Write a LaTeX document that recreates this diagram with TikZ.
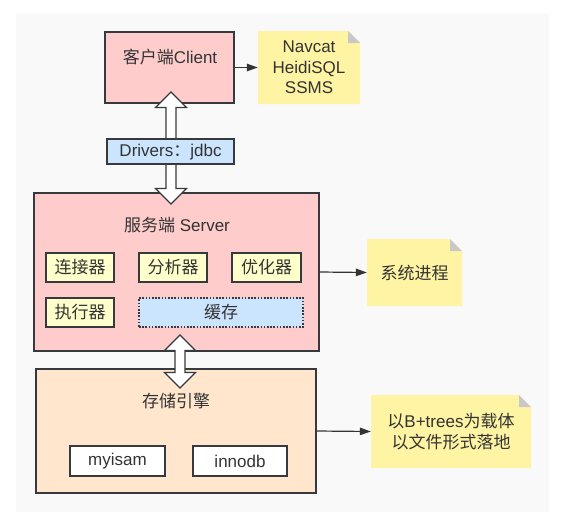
\documentclass[tikz,border=0pt]{standalone}
\usepackage{fontspec}
\setmainfont{Liberation Sans}
\newfontfamily\cj{Noto Sans CJK SC}
\usetikzlibrary{arrows.meta,calc}
\definecolor{panelc}{HTML}{F9F9F9}
\definecolor{pinkc}{HTML}{FFCCCC}
\definecolor{notec}{HTML}{FFF4A3}
\definecolor{innerc}{HTML}{FFFFCC}
\definecolor{bluec}{HTML}{CCE5FF}
\definecolor{peachc}{HTML}{FFE6CC}
\definecolor{borderc}{HTML}{36393D}
\definecolor{foldc}{HTML}{C8C8C8}
\definecolor{textc}{HTML}{333333}
\newcommand\dblarr[2]{\draw[hollow] let \p1=(#1), \p2=(#2) in (\p1) -- ++(15.5pt,-15.5pt) -- ++(-10.5pt,0pt) -- (\x1+5pt,\y2+15.5pt) -- ++(10.5pt,0pt) -- (\p2) -- ++(-15.5pt,15.5pt) -- ++(10.5pt,0pt) -- (\x1-5pt,\y1-15.5pt) -- ++(-10.5pt,0pt) -- cycle;}
\begin{document}
\begin{tikzpicture}[x=1pt,y=-1pt,
  box/.style={draw=borderc, line width=1.1pt, inner sep=0pt},
  txt/.style={text=textc, inner sep=0pt, font=\fontsize{17}{20.5}\selectfont, align=center},
  conn/.style={draw=textc, line width=1.2pt, -{Triangle[length=11pt,width=7.5pt]}},
  hollow/.style={draw=borderc, fill=white, line width=1.1pt, line join=miter},
  note/.style={inner sep=0pt, path picture={
    \fill[notec] (path picture bounding box.north west) -- ([xshift=-12pt]path picture bounding box.north east) -- ([yshift=-12pt]path picture bounding box.north east) -- (path picture bounding box.south east) -- (path picture bounding box.south west) -- cycle;
    \fill[foldc] ([xshift=-12pt]path picture bounding box.north east) -- ([xshift=-12pt,yshift=-12pt]path picture bounding box.north east) -- ([yshift=-12pt]path picture bounding box.north east) -- cycle;}}
]
\useasboundingbox (0,0) rectangle (565,528);
\fill[panelc] (16,13) rectangle (549,512);

% client
\node[box, fill=pinkc, minimum width=129pt, minimum height=71pt] (client) at (169.5,67.5) {};
\node[note, minimum width=102pt, minimum height=73pt] (note1) at (309,67.5) {};

% server
\node[box, fill=pinkc, minimum width=285pt, minimum height=158pt] (server) at (176.5,272) {};
\node[box, fill=innerc, minimum width=68pt, minimum height=29pt] (conn1) at (80,267.5) {};
\node[box, fill=innerc, minimum width=68pt, minimum height=29pt] (anal) at (173,267.5) {};
\node[box, fill=innerc, minimum width=69pt, minimum height=29pt] (opt) at (266.5,267.5) {};
\node[box, fill=innerc, minimum width=68pt, minimum height=29pt] (exec) at (80,312.5) {};
\node[draw=borderc, line width=1.3pt, dash pattern=on 1.6pt off 1.6pt, fill=bluec, inner sep=0pt, minimum width=164pt, minimum height=29pt] (cache) at (221,312.5) {};
\node[note, minimum width=95pt, minimum height=67pt] (note2) at (414.5,272.5) {};

% storage
\node[box, fill=peachc, minimum width=280pt, minimum height=124pt] (storage) at (176,431) {};
\node[box, fill=white, minimum width=95pt, minimum height=30pt] (myisam) at (117.5,461) {};
\node[box, fill=white, minimum width=94pt, minimum height=30pt] (innodb) at (240,461) {};
\node[note, minimum width=160pt, minimum height=73pt] (note3) at (451,431.5) {};

% connectors
\draw[conn] (client.east) -- (note1.west);
\draw[conn] (server.east) -- (note2.west);
\draw[conn] (storage.east) -- (note3.west);

% hollow double arrows
\coordinate (u1) at (171,92);
\coordinate (u2) at (171,204);
\dblarr{u1}{u2}
\coordinate (l1) at (180,335);
\coordinate (l2) at (180,388);
\dblarr{l1}{l2}

\node[box, fill=bluec, minimum width=127pt, minimum height=25pt] (drivers) at (170.5,151.5) {};

% texts
\node[txt] (clientlbl) at (170,57) {{\cj 客户端}Client};
\node[txt] (note1lbl) at (309,67.5) {Navcat\\HeidiSQL\\SSMS};
\node[txt] (driverslbl) at (170.5,152) {Drivers{\cj ：}jdbc};
\node[txt] (serverlbl) at (177,225) {{\cj 服务端} Server};
\node[txt] (conn1lbl) at (conn1) {\cj 连接器};
\node[txt] (anallbl) at (anal) {\cj 分析器};
\node[txt] (optlbl) at (opt) {\cj 优化器};
\node[txt] (execlbl) at (exec) {\cj 执行器};
\node[txt] (cachelbl) at (cache) {\cj 缓存};
\node[txt] (note2lbl) at (414.5,272.5) {\cj 系统进程};
\node[txt] (storagelbl) at (176,401) {\cj 存储引擎};
\node[txt] (myisamlbl) at (myisam) {myisam};
\node[txt] (innodblbl) at (innodb) {innodb};
\node[txt] (note3lbl) at (451,431.5) {{\cj 以}B+trees{\cj 为载体}\\{\cj 以文件形式落地}};
\end{tikzpicture}
\end{document}
